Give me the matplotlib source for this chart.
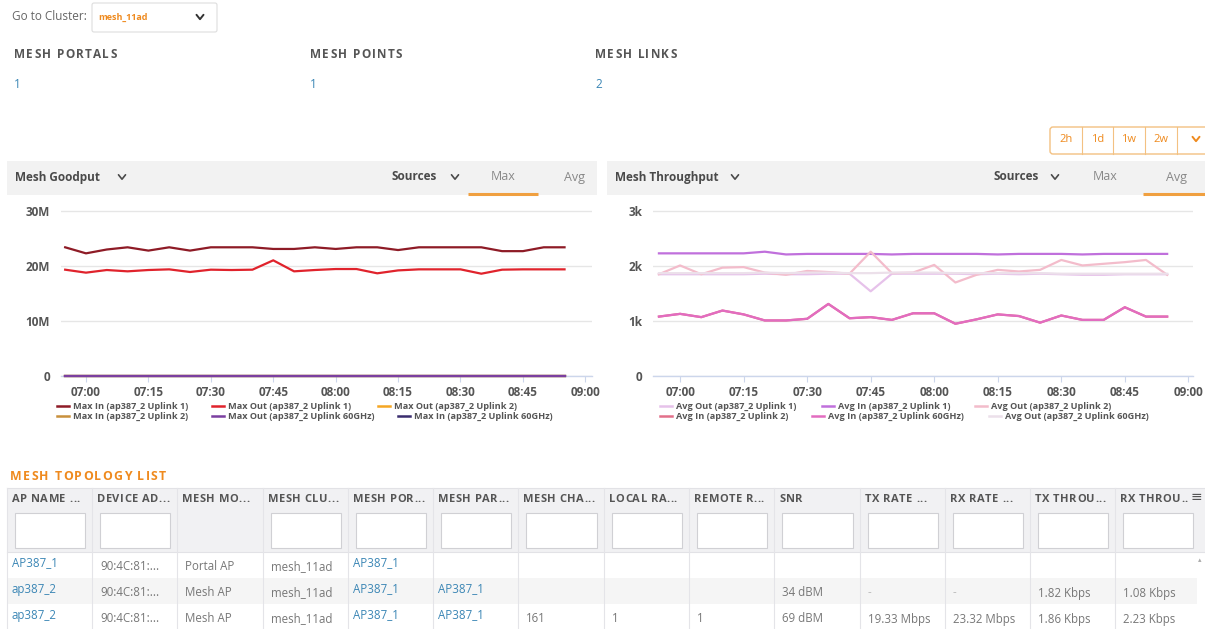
import matplotlib
matplotlib.use("Agg")
import matplotlib.pyplot as plt
from matplotlib.patches import Rectangle, FancyBboxPatch
from matplotlib.ticker import FixedLocator, FuncFormatter

plt.rcParams['font.family'] = ['Open Sans', 'DejaVu Sans']

# ---------------- data ----------------
times = ["06:55", "07:00", "07:05", "07:10", "07:15", "07:20", "07:25", "07:30", "07:35",
         "07:40", "07:45", "07:50", "07:55", "08:00", "08:05", "08:10", "08:15", "08:20",
         "08:25", "08:30", "08:35", "08:40", "08:45", "08:50", "08:55"]
tick_labels = ["07:00", "07:15", "07:30", "07:45", "08:00", "08:15", "08:30", "08:45", "09:00"]

# Mesh Goodput (Max), in M
max_in_uplink1 = [23.4, 22.3, 23.0, 23.4, 22.8, 23.4, 22.8, 23.4, 23.4, 23.4, 23.1, 23.1, 23.4,
                  23.1, 23.4, 23.4, 22.9, 23.4, 23.4, 23.4, 23.4, 22.7, 22.7, 23.4, 23.4]
max_out_uplink1 = [19.33, 18.79, 19.27, 19.03, 19.27, 19.39, 18.91, 19.33, 19.27, 19.33, 21.03, 19.03,
                   19.27, 19.45, 19.45, 18.67, 19.2, 19.39, 19.39, 19.39, 18.6, 19.33, 19.39, 19.39, 19.39]
max_out_uplink2 = [0, 0, 0, 0, 0, 0, 0, 0, 0, 0, 0, 0, 0, 0, 0, 0, 0, 0, 0, 0, 0, 0, 0, 0, 0]
max_in_uplink2 = [0, 0, 0, 0, 0, 0, 0, 0, 0, 0, 0, 0, 0, 0, 0, 0, 0, 0, 0, 0, 0, 0, 0, 0, 0]
max_out_60ghz = [0, 0, 0, 0, 0, 0, 0, 0, 0, 0, 0, 0, 0, 0, 0, 0, 0, 0, 0, 0, 0, 0, 0, 0, 0]
max_in_60ghz = [0, 0, 0, 0, 0, 0, 0, 0, 0, 0, 0, 0, 0, 0, 0, 0, 0, 0, 0, 0, 0, 0, 0, 0, 0]

# Mesh Throughput (Avg), in k
avg_out_uplink1 = [1.85, 1.85, 1.85, 1.85, 1.85, 1.86, 1.85, 1.85, 1.86, 1.86, 1.54, 1.86, 1.86,
                   1.86, 1.86, 1.85, 1.86, 1.85, 1.86, 1.85, 1.84, 1.84, 1.85, 1.85, 1.85]
avg_in_uplink1 = [2.23, 2.23, 2.23, 2.23, 2.23, 2.26, 2.21, 2.22, 2.22, 2.22, 2.22, 2.21, 2.22,
                  2.22, 2.22, 2.22, 2.21, 2.22, 2.22, 2.22, 2.21, 2.22, 2.22, 2.22, 2.22]
avg_out_uplink2 = [1.85, 2.01, 1.85, 1.97, 1.98, 1.88, 1.84, 1.91, 1.89, 1.86, 2.26, 1.87, 1.88,
                   2.02, 1.70, 1.84, 1.93, 1.90, 1.93, 2.11, 2.01, 2.04, 2.07, 2.11, 1.84]
avg_in_uplink2 = [1.08, 1.13, 1.07, 1.19, 1.12, 1.01, 1.01, 1.04, 1.31, 1.05, 1.07, 1.02, 1.14,
                  1.14, 0.95, 1.03, 1.12, 1.09, 0.97, 1.10, 1.02, 1.02, 1.25, 1.08, 1.08]
avg_in_60ghz = [1.08, 1.13, 1.07, 1.19, 1.12, 1.01, 1.01, 1.04, 1.31, 1.05, 1.07, 1.02, 1.14,
                1.14, 0.95, 1.03, 1.12, 1.09, 0.97, 1.10, 1.02, 1.02, 1.25, 1.08, 1.08]
avg_out_60ghz = [1.87, 1.87, 1.87, 1.87, 1.87, 1.88, 1.87, 1.88, 1.88, 1.87, 1.87, 1.88, 1.88,
                 1.88, 1.87, 1.87, 1.87, 1.87, 1.87, 1.86, 1.86, 1.86, 1.86, 1.86, 1.86]

left_labels = ["Max In (ap387_2 Uplink 1)", "Max Out (ap387_2 Uplink 1)", "Max Out (ap387_2 Uplink 2)",
               "Max In (ap387_2 Uplink 2)", "Max Out (ap387_2 Uplink 60GHz)", "Max In (ap387_2 Uplink 60GHz)"]
left_colors = ["#8e1b26", "#e0232c", "#f5a623", "#c8903c", "#7b3fa0", "#3a2d6e"]
right_labels = ["Avg Out (ap387_2 Uplink 1)", "Avg In (ap387_2 Uplink 1)", "Avg Out (ap387_2 Uplink 2)",
                "Avg In (ap387_2 Uplink 2)", "Avg In (ap387_2 Uplink 60GHz)", "Avg Out (ap387_2 Uplink 60GHz)"]
right_colors = ["#e6c2ea", "#c070dc", "#f3bccb", "#e2708a", "#e26cc0", "#ece0ea"]

summary_titles = ["MESH PORTALS", "MESH POINTS", "MESH LINKS"]
summary_values = ["1", "1", "2"]
range_buttons = ["2h", "1d", "1w", "2w"]

table_headers = ["AP NAME ...", "DEVICE AD...", "MESH MO...", "MESH CLU...", "MESH POR...",
                 "MESH PAR...", "MESH CHA...", "LOCAL RA...", "REMOTE R...", "SNR", "TX RATE ...",
                 "RX RATE ...", "TX THROU...", "RX THROU.."]
table_rows = [
    ["AP387_1", "90:4C:81:...", "Portal AP", "mesh_11ad", "AP387_1", "", "", "", "", "", "", "", "", ""],
    ["ap387_2", "90:4C:81:...", "Mesh AP", "mesh_11ad", "AP387_1", "AP387_1", "", "", "", "34 dBM", "-", "-",
     "1.82 Kbps", "1.08 Kbps"],
    ["ap387_2", "90:4C:81:...", "Mesh AP", "mesh_11ad", "AP387_1", "AP387_1", "161", "1", "1", "69 dBM",
     "19.33 Mbps", "23.32 Mbps", "1.86 Kbps", "2.23 Kbps"],
]
link_cols = [0, 4, 5]

# ---------------- figure ----------------
W, H = 1205, 629
fig = plt.figure(figsize=(W / 100, H / 100), dpi=100)
fig.patch.set_facecolor("white")
bg = fig.add_axes([0, 0, 1, 1])
bg.set_xlim(0, W)
bg.set_ylim(H, 0)
bg.axis("off")
renderer = fig.canvas.get_renderer()

GRAY = "#666666"
DARK = "#4a4a4a"
ORANGE = "#ef8a1e"
LINK = "#3b86b5"


def txt(x, y, s, size=9, color=GRAY, weight="normal", ha="left", va="center", **kw):
    return bg.text(x, y, s, fontsize=size, color=color, fontweight=weight, ha=ha, va=va, **kw)


def spaced(x, y, s, spacing, size=9, color=GRAY, weight="bold"):
    for ch in s:
        if ch == " ":
            x += size * 1.389 * 0.27 + spacing
            continue
        t = txt(x, y, ch, size=size, color=color, weight=weight)
        x += t.get_window_extent(renderer).width + spacing


def chev(x, y, w=4.0, h=2.5, color=DARK, lw=1.3):
    bg.plot([x - w, x, x + w], [y - h, y + h, y - h], color=color, lw=lw, solid_capstyle="round",
            solid_joinstyle="round")


# top cluster selector
txt(12, 17, "Go to Cluster:", size=8.5)
bg.add_patch(FancyBboxPatch((92, 3), 125, 29, boxstyle="round,pad=0,rounding_size=2",
                            fc="white", ec="#dddddd", lw=0.8))
txt(98, 17, "mesh_11ad", size=6.5, color=ORANGE, weight="bold")
chev(200, 17, w=3.5, h=2.2, color="#333333", lw=1.4)

# summary
for i, (t, v) in enumerate(zip(summary_titles, summary_values)):
    x = [14, 310, 595][i]
    spaced(x, 55, t, 1.3, size=8.5, color="#555555")
    txt(x, 85, v, size=8.5, color=LINK)

# range buttons
bg.add_patch(FancyBboxPatch((1050, 127), 160, 27, boxstyle="round,pad=0,rounding_size=3",
                            fc="white", ec="#f3c182", lw=1.0))
for i, b in enumerate(range_buttons):
    cx = [1066, 1098, 1129, 1161][i]
    txt(cx, 140, b, size=8, color=ORANGE, ha="center")
for dx in [1082, 1113, 1145, 1177]:
    bg.plot([dx, dx], [127, 154], color="#f3c182", lw=0.8)
chev(1196, 139, w=3.5, h=2.2, color=ORANGE, lw=1.4)

# chart header bars
for (x0, x1, title, tchev, src, srcchev, mx, av, ul0, ul1) in [
        (7, 597, "Mesh Goodput", 122, 392, 455, 503, 575, 468, 538),
        (607, 1205, "Mesh Throughput", 735, 993, 1055, 1105, 1177, 1143, 1205)]:
    bg.add_patch(Rectangle((x0, 161), x1 - x0, 34, fc="#f2f2f2", ec="none"))
    txt(x0 + 8, 177, title, size=8.5, color=DARK, weight="bold")
    chev(tchev, 177, w=3.5, h=2.2, color=DARK, lw=1.2)
    txt(src, 177, "Sources", size=8.5, color=DARK, weight="bold")
    chev(srcchev, 177, w=3.5, h=2.2, color=DARK, lw=1.2)
    txt(mx, 177, "Max", size=9, color="#888888", ha="center")
    txt(av, 177, "Avg", size=9, color="#888888", ha="center")
    bg.plot([ul0, ul1], [194, 194], color="#f0a040", lw=2.2, solid_capstyle="butt")


# ---------------- charts ----------------
def to_min(t):
    h, m = t.split(":")
    return (int(h) - 7) * 60 + int(m)


xs = [to_min(t) for t in times]
ticks = [to_min(t) for t in tick_labels]


def make_axes(px_left, px_right, xlim, ymax, unit_px, ylabels_fmt, pad):
    top_val = ymax * 31 / 30
    height_px = top_val * unit_px
    ax = fig.add_axes([px_left / W, 1 - 376 / H, (px_right - px_left) / W, height_px / H])
    ax.set_facecolor("none")
    ax.set_xlim(*xlim)
    ax.set_ylim(0, top_val)
    for s in ["top", "right", "left"]:
        ax.spines[s].set_visible(False)
    ax.spines["bottom"].set_color("#ccd6eb")
    ax.spines["bottom"].set_linewidth(1.0)
    ax.xaxis.set_major_locator(FixedLocator(ticks))
    ax.set_xticklabels(tick_labels)
    ax.tick_params(axis="x", length=4, width=0.8, color="#ccd6eb", pad=3, labelsize=8.5,
                   labelcolor="#555555")
    for lab in ax.get_xticklabels():
        lab.set_fontweight("bold")
    ax.yaxis.set_major_locator(FixedLocator([0, ymax / 3, 2 * ymax / 3, ymax]))
    ax.yaxis.set_major_formatter(FuncFormatter(ylabels_fmt))
    ax.tick_params(axis="y", length=0, pad=pad, labelsize=8.5, labelcolor="#555555")
    for lab in ax.get_yticklabels():
        lab.set_fontweight("bold")
    ax.grid(axis="y", color="#e6e6e6", lw=1.0)
    ax.set_axisbelow(True)
    return ax


axL = make_axes(61, 592, (-6, 121.6), 30, 5.5,
                lambda v, p: "0" if v == 0 else f"{int(round(v))}M", 8)
axR = make_axes(653, 1193, (-6.4, 121.1), 3, 55,
                lambda v, p: "0" if v == 0 else f"{int(round(v))}k", 7.5)

left_series = [max_in_uplink1, max_out_uplink1, max_out_uplink2, max_in_uplink2, max_out_60ghz, max_in_60ghz]
left_z = [6, 7, 2, 3, 5, 4]
for ys, c, z in zip(left_series, left_colors, left_z):
    axL.plot(xs, ys, color=c, lw=1.6, solid_joinstyle="round", clip_on=False, zorder=z)

right_series = [avg_out_uplink1, avg_in_uplink1, avg_out_uplink2, avg_in_uplink2, avg_in_60ghz, avg_out_60ghz]
for ys, c in zip(right_series, right_colors):
    axR.plot(xs, ys, color=c, lw=1.6, solid_joinstyle="round", clip_on=False)


# ---------------- legends ----------------
def legend_item(x, y, color, label):
    bg.plot([x, x + 12], [y, y], color=color, lw=1.8)
    txt(x + 16, y, label, size=6.6, color="#555555", weight="bold")


left_pos = [(57, 406), (212, 406), (378, 406), (57, 416), (212, 416), (398, 416)]
for (x, y), c, l in zip(left_pos, left_colors, left_labels):
    legend_item(x, y, c, l)
right_pos = [(660, 406), (822, 406), (975, 406), (660, 416), (812, 416), (989, 416)]
for (x, y), c, l in zip(right_pos, right_colors, right_labels):
    legend_item(x, y, c, l)

# ---------------- topology table ----------------
spaced(10, 476, "MESH TOPOLOGY LIST", 1.3, size=8.8, color=ORANGE)
edges = [7, 92, 177, 263, 348, 433, 518, 604, 689, 774, 860, 945, 1030, 1115, 1200]
bg.add_patch(Rectangle((7, 488), W - 7, 64, fc="#f1f1f3", ec="none"))
bg.plot([7, W], [488, 488], color="#e2e2e6", lw=0.8)
bg.plot([7, W], [552, 552], color="#e2e2e6", lw=0.8)
row_bg = ["white", "#f5f5f5", "white"]
row_top = [552, 578, 604]
for i in range(3):
    bg.add_patch(Rectangle((7, row_top[i]), 1190, 26, fc=row_bg[i], ec="none"))
for e in edges[1:-1]:
    bg.plot([e, e], [488, 629], color="#e4e4e8", lw=0.8)
bg.plot([7, 7], [488, 629], color="#e4e4e8", lw=0.8)

for j, h in enumerate(table_headers):
    spaced(edges[j] + 5, 499, h, 0.45, size=8, color="#555555")
    if j != 2:
        bg.add_patch(Rectangle((edges[j] + 8, 513), edges[j + 1] - edges[j] - 15, 35,
                               fc="white", ec="#d0d0d4", lw=0.8))
txt(1196, 497, "≡", size=10, color="#555555", ha="center", family=["DejaVu Sans"])
txt(1200, 560, "▴", size=5, color="#aaaaaa", ha="center", family=["DejaVu Sans"])

for i, row in enumerate(table_rows):
    base = row_top[i] + 15
    for j, cell in enumerate(row):
        if not cell:
            continue
        if j in link_cols:
            txt(edges[j] + 5, base - 4, cell, size=8.3, color=LINK)
        else:
            txt(edges[j] + 8, base, cell, size=8.3, color="#777777" if cell != "-" else "#bbbbbb")

fig.savefig("out.png", dpi=100, facecolor="white")
